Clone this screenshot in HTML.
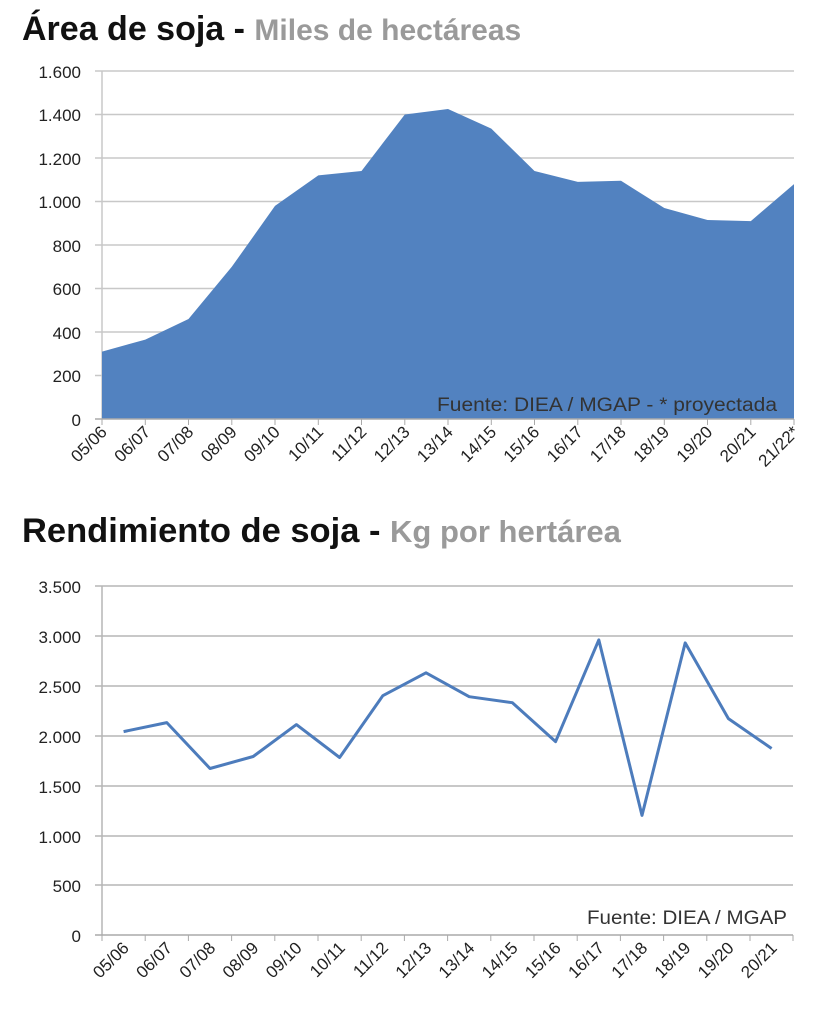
<!DOCTYPE html>
<html><head><meta charset="utf-8"><style>
body{margin:0;background:#fff;}
svg text{font-family:"Liberation Sans",sans-serif;}
</style></head><body>
<svg width="840" height="1011" viewBox="0 0 840 1011" xmlns="http://www.w3.org/2000/svg">
<text x="22" y="40" font-size="34" font-weight="bold" fill="#111">Área de soja - <tspan fill="#9a9a9a" font-size="30">Miles de hectáreas</tspan></text>
<g stroke="#c8c8c8" stroke-width="1.5">
<line x1="95" x2="794" y1="71" y2="71"/><line x1="95" x2="794" y1="114.5" y2="114.5"/><line x1="95" x2="794" y1="158" y2="158"/><line x1="95" x2="794" y1="201.5" y2="201.5"/><line x1="95" x2="794" y1="245" y2="245"/><line x1="95" x2="794" y1="288.5" y2="288.5"/><line x1="95" x2="794" y1="332" y2="332"/><line x1="95" x2="794" y1="375.5" y2="375.5"/>
<line x1="102" x2="102" y1="71" y2="419"/>
</g>
<polygon fill="#5282c0" points="102,419 102,351.6 145.3,339.6 188.5,319 231.8,266.8 275,205.9 318.3,175.4 361.5,171 404.8,114.5 448,109 491.3,128.6 534.5,171 577.8,181.9 621,180.8 664.3,208 707.5,220 750.8,221.1 794,184.1 794,419"/>
<text x="437" y="411" font-size="19" fill="#333" textLength="340" lengthAdjust="spacingAndGlyphs">Fuente: DIEA / MGAP - * proyectada</text>
<g stroke="#aaa" stroke-width="1.5">
<line x1="95" x2="794" y1="419" y2="419"/>
</g>
<g stroke="#aaa" stroke-width="1">
<line x1="102" x2="102" y1="419" y2="425"/><line x1="145.3" x2="145.3" y1="419" y2="425"/><line x1="188.5" x2="188.5" y1="419" y2="425"/><line x1="231.8" x2="231.8" y1="419" y2="425"/><line x1="275" x2="275" y1="419" y2="425"/><line x1="318.3" x2="318.3" y1="419" y2="425"/><line x1="361.5" x2="361.5" y1="419" y2="425"/><line x1="404.8" x2="404.8" y1="419" y2="425"/><line x1="448" x2="448" y1="419" y2="425"/><line x1="491.3" x2="491.3" y1="419" y2="425"/><line x1="534.5" x2="534.5" y1="419" y2="425"/><line x1="577.8" x2="577.8" y1="419" y2="425"/><line x1="621" x2="621" y1="419" y2="425"/><line x1="664.3" x2="664.3" y1="419" y2="425"/><line x1="707.5" x2="707.5" y1="419" y2="425"/><line x1="750.8" x2="750.8" y1="419" y2="425"/><line x1="794" x2="794" y1="419" y2="425"/>
</g>
<g font-size="17" fill="#222" text-anchor="end">
<text x="81" y="78">1.600</text><text x="81" y="121">1.400</text><text x="81" y="165">1.200</text><text x="81" y="208">1.000</text><text x="81" y="252">800</text><text x="81" y="295">600</text><text x="81" y="339">400</text><text x="81" y="382">200</text><text x="81" y="426">0</text>
</g>
<g font-size="17" fill="#222" text-anchor="end">
<text transform="translate(108,433) rotate(-45)">05/06</text>
<text transform="translate(151.3,433) rotate(-45)">06/07</text>
<text transform="translate(194.5,433) rotate(-45)">07/08</text>
<text transform="translate(237.8,433) rotate(-45)">08/09</text>
<text transform="translate(281,433) rotate(-45)">09/10</text>
<text transform="translate(324.3,433) rotate(-45)">10/11</text>
<text transform="translate(367.5,433) rotate(-45)">11/12</text>
<text transform="translate(410.8,433) rotate(-45)">12/13</text>
<text transform="translate(454,433) rotate(-45)">13/14</text>
<text transform="translate(497.3,433) rotate(-45)">14/15</text>
<text transform="translate(540.5,433) rotate(-45)">15/16</text>
<text transform="translate(583.8,433) rotate(-45)">16/17</text>
<text transform="translate(627,433) rotate(-45)">17/18</text>
<text transform="translate(670.3,433) rotate(-45)">18/19</text>
<text transform="translate(713.5,433) rotate(-45)">19/20</text>
<text transform="translate(756.8,433) rotate(-45)">20/21</text>
<text transform="translate(800,433) rotate(-45)">21/22*</text>
</g>

<text x="22" y="542" font-size="34.5" font-weight="bold" fill="#111">Rendimiento de soja - <tspan fill="#9a9a9a" font-size="31">Kg por hertárea</tspan></text>
<g stroke="#b5b5b5" stroke-width="1.5">
<line x1="95" x2="793" y1="586" y2="586"/><line x1="95" x2="793" y1="636" y2="636"/><line x1="95" x2="793" y1="686" y2="686"/><line x1="95" x2="793" y1="736" y2="736"/><line x1="95" x2="793" y1="786" y2="786"/><line x1="95" x2="793" y1="836" y2="836"/><line x1="95" x2="793" y1="885" y2="885"/>
<line x1="102" x2="102" y1="586" y2="935"/>
<line x1="95" x2="793" y1="935" y2="935" stroke="#aaa"/>
</g>
<g stroke="#aaa" stroke-width="1">
<line x1="102" x2="102" y1="935" y2="941"/><line x1="145.2" x2="145.2" y1="935" y2="941"/><line x1="188.4" x2="188.4" y1="935" y2="941"/><line x1="231.6" x2="231.6" y1="935" y2="941"/><line x1="274.8" x2="274.8" y1="935" y2="941"/><line x1="318" x2="318" y1="935" y2="941"/><line x1="361.2" x2="361.2" y1="935" y2="941"/><line x1="404.4" x2="404.4" y1="935" y2="941"/><line x1="447.6" x2="447.6" y1="935" y2="941"/><line x1="490.8" x2="490.8" y1="935" y2="941"/><line x1="534" x2="534" y1="935" y2="941"/><line x1="577.2" x2="577.2" y1="935" y2="941"/><line x1="620.4" x2="620.4" y1="935" y2="941"/><line x1="663.6" x2="663.6" y1="935" y2="941"/><line x1="706.8" x2="706.8" y1="935" y2="941"/><line x1="750" x2="750" y1="935" y2="941"/><line x1="793" x2="793" y1="935" y2="941"/>
</g>
<polyline fill="none" stroke="#4d7cbc" stroke-width="3" stroke-linejoin="round" points="123.6,731.6 166.8,722.6 210,768.5 253.2,756.5 296.4,724.6 339.6,757.5 382.8,695.7 426,672.8 469.2,696.7 512.4,702.7 555.6,741.6 598.8,639.9 642,815.4 685.2,642.9 728.4,718.6 771.6,748.5"/>
<text x="587" y="924" font-size="19" fill="#333" textLength="200" lengthAdjust="spacingAndGlyphs">Fuente: DIEA / MGAP</text>
<g font-size="17" fill="#222" text-anchor="end">
<text x="81" y="593">3.500</text><text x="81" y="643">3.000</text><text x="81" y="693">2.500</text><text x="81" y="743">2.000</text><text x="81" y="793">1.500</text><text x="81" y="843">1.000</text><text x="81" y="892">500</text><text x="81" y="942">0</text>
</g>
<g font-size="17" fill="#222" text-anchor="end">
<text transform="translate(130,949) rotate(-45)">05/06</text>
<text transform="translate(173.2,949) rotate(-45)">06/07</text>
<text transform="translate(216.4,949) rotate(-45)">07/08</text>
<text transform="translate(259.6,949) rotate(-45)">08/09</text>
<text transform="translate(302.8,949) rotate(-45)">09/10</text>
<text transform="translate(346,949) rotate(-45)">10/11</text>
<text transform="translate(389.2,949) rotate(-45)">11/12</text>
<text transform="translate(432.4,949) rotate(-45)">12/13</text>
<text transform="translate(475.6,949) rotate(-45)">13/14</text>
<text transform="translate(518.8,949) rotate(-45)">14/15</text>
<text transform="translate(562,949) rotate(-45)">15/16</text>
<text transform="translate(605.2,949) rotate(-45)">16/17</text>
<text transform="translate(648.4,949) rotate(-45)">17/18</text>
<text transform="translate(691.6,949) rotate(-45)">18/19</text>
<text transform="translate(734.8,949) rotate(-45)">19/20</text>
<text transform="translate(778,949) rotate(-45)">20/21</text>
</g>
</svg>
</body></html>
